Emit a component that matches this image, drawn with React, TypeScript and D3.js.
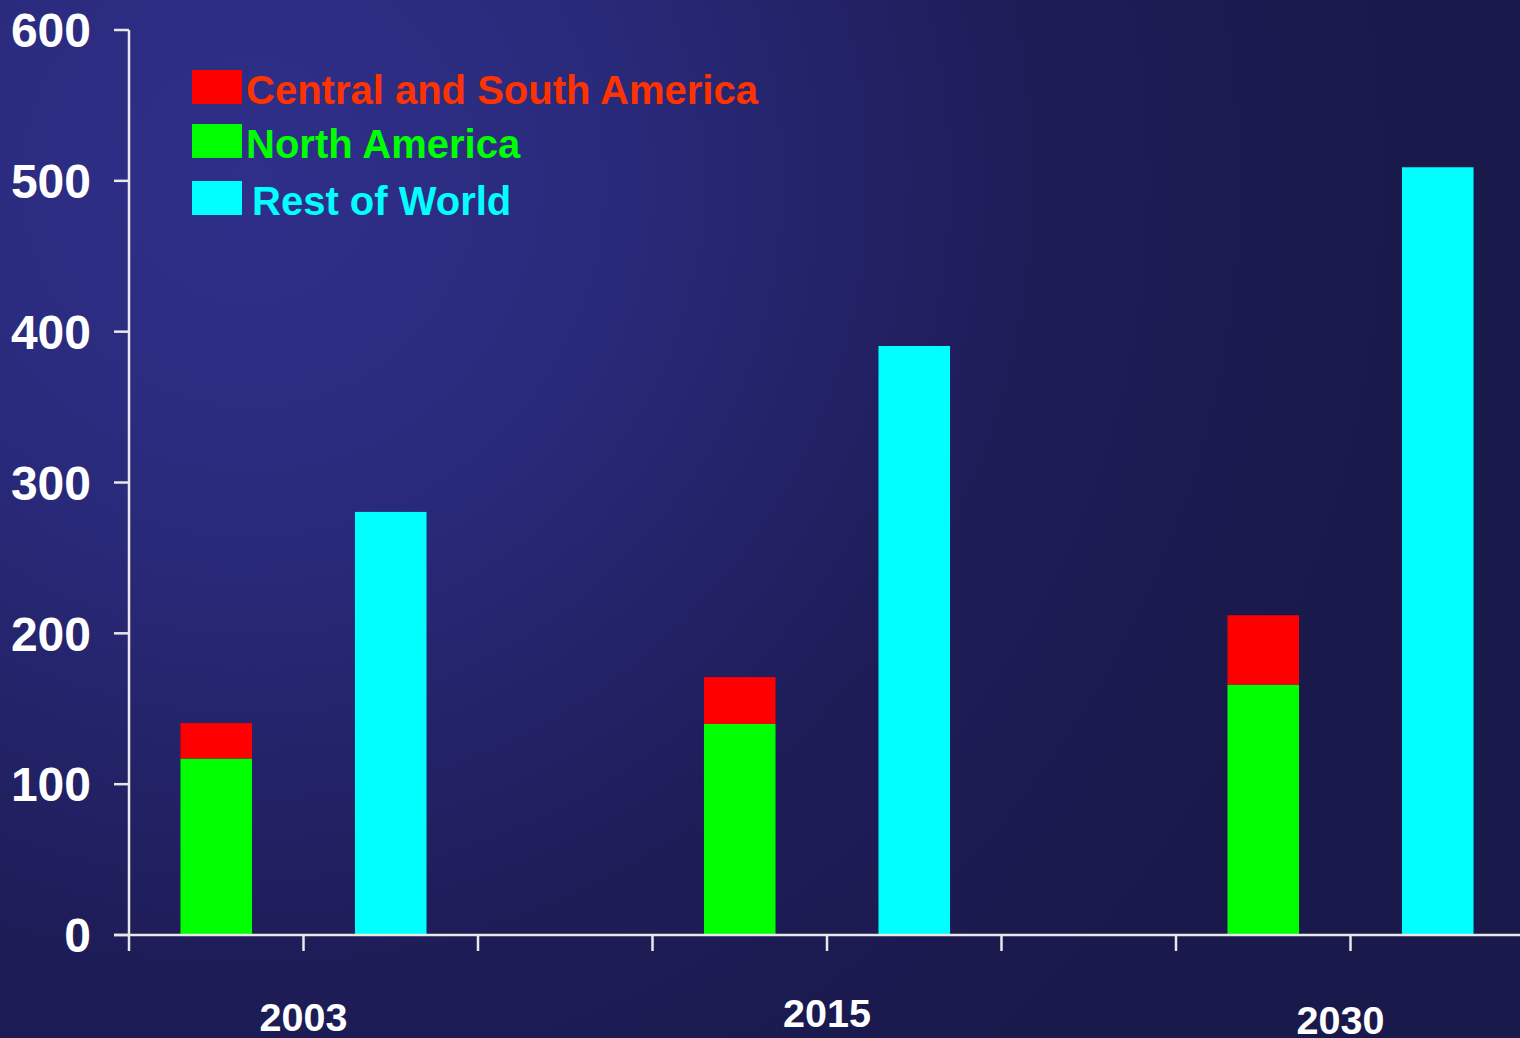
import { useEffect, useRef } from 'react';
import * as d3 from 'd3';

const years = ['2003', '2015', '2030'];
const northAmerica = [117, 140, 166];
const centralSouthAmerica = [23.5, 31, 46];
const restOfWorld = [280.5, 390.5, 509];
const yTicks = [0, 100, 200, 300, 400, 500, 600];

const legendItems = [
  { label: 'Central and South America', swatch: '#ff0000', text: '#ff3300' },
  { label: 'North America', swatch: '#00ff00', text: '#00ff00' },
  { label: 'Rest of World', swatch: '#00ffff', text: '#00ffff' },
];

const App = () => {
  const svgRef = useRef<SVGSVGElement>(null);

  useEffect(() => {
    document.body.style.margin = '0';
    document.body.style.overflow = 'hidden';
    if (!svgRef.current) return;

    const width = 1520;
    const height = 1038;
    const left = 129;
    const bottom = 935;
    const top = 30;

    const svg = d3.select(svgRef.current)
      .attr('width', width)
      .attr('height', height);
    svg.selectAll('*').remove();

    const defs = svg.append('defs');
    const grad = defs.append('radialGradient')
      .attr('id', 'bg')
      .attr('gradientUnits', 'userSpaceOnUse')
      .attr('cx', 250).attr('cy', 180).attr('r', 1150);
    grad.append('stop').attr('offset', 0).attr('stop-color', '#2f2f8a');
    grad.append('stop').attr('offset', 0.3).attr('stop-color', '#2a2a7c');
    grad.append('stop').attr('offset', 0.7).attr('stop-color', '#1d1c56');
    grad.append('stop').attr('offset', 1).attr('stop-color', '#1a194c');

    svg.append('rect')
      .attr('width', width).attr('height', height)
      .attr('fill', 'url(#bg)');

    // 8 slots: two per year plus one empty gap between years
    const slots = d3.scaleLinear().domain([0, 8]).range([left, 1525]);
    const step = slots(1) - slots(0);
    const barW = step * 0.41;
    const y = d3.scaleLinear().domain([0, 600]).range([bottom, top]);

    const font = '"Liberation Sans", Arial, sans-serif';
    const axisColor = '#e8e8e8';
    // the year labels sit a little unevenly in the original
    const labelNudge = [[0, 1], [0, -3], [-10, 4]];

    const g = svg.append('g');

    years.forEach((yr, i) => {
      const s = i * 3;
      const cx1 = slots(s + 0.5);
      const cx2 = slots(s + 1.5);
      g.append('rect')
        .attr('x', cx1 - barW / 2).attr('width', barW)
        .attr('y', y(northAmerica[i])).attr('height', y(0) - y(northAmerica[i]))
        .attr('fill', '#00ff00');
      g.append('rect')
        .attr('x', cx1 - barW / 2).attr('width', barW)
        .attr('y', y(northAmerica[i] + centralSouthAmerica[i]))
        .attr('height', y(northAmerica[i]) - y(northAmerica[i] + centralSouthAmerica[i]))
        .attr('fill', '#ff0000');
      g.append('rect')
        .attr('x', cx2 - barW / 2).attr('width', barW)
        .attr('y', y(restOfWorld[i])).attr('height', y(0) - y(restOfWorld[i]))
        .attr('fill', '#00ffff');

      g.append('text')
        .attr('x', slots(s + 1) + labelNudge[i][0]).attr('y', 1030 + labelNudge[i][1])
        .attr('text-anchor', 'middle')
        .attr('font-family', font).attr('font-weight', 'bold')
        .attr('font-size', 39.5).attr('fill', '#ffffff')
        .text(yr);
    });

    // axes
    g.append('line')
      .attr('x1', left).attr('x2', left)
      .attr('y1', top).attr('y2', bottom + 16)
      .attr('stroke', axisColor).attr('stroke-width', 2.5);
    g.append('line')
      .attr('x1', left - 15).attr('x2', width)
      .attr('y1', bottom).attr('y2', bottom)
      .attr('stroke', axisColor).attr('stroke-width', 2.5);

    yTicks.forEach(t => {
      g.append('line')
        .attr('x1', left - 15).attr('x2', left)
        .attr('y1', y(t)).attr('y2', y(t))
        .attr('stroke', axisColor).attr('stroke-width', 2.5);
      g.append('text')
        .attr('x', 91).attr('y', y(t))
        .attr('dy', '0.36em')
        .attr('text-anchor', 'end')
        .attr('font-family', font).attr('font-weight', 'bold')
        .attr('font-size', 48).attr('fill', '#ffffff')
        .text(t);
    });

    d3.range(1, 9).forEach(k => {
      g.append('line')
        .attr('x1', slots(k)).attr('x2', slots(k))
        .attr('y1', bottom).attr('y2', bottom + 16)
        .attr('stroke', axisColor).attr('stroke-width', 2.5);
    });

    // legend
    const legendY = [70, 124, 181];
    legendItems.forEach((item, i) => {
      g.append('rect')
        .attr('x', 192).attr('y', legendY[i])
        .attr('width', 50).attr('height', 34)
        .attr('fill', item.swatch);
      g.append('text')
        .attr('x', i === 2 ? 252 : 246).attr('y', legendY[i] + 20)
        .attr('dy', '0.36em')
        .attr('font-family', font).attr('font-weight', 'bold')
        .attr('font-size', 40).attr('fill', item.text)
        .text(item.label);
    });
  }, []);

  return <svg ref={svgRef} style={{ display: 'block' }}></svg>;
};

export default App;
